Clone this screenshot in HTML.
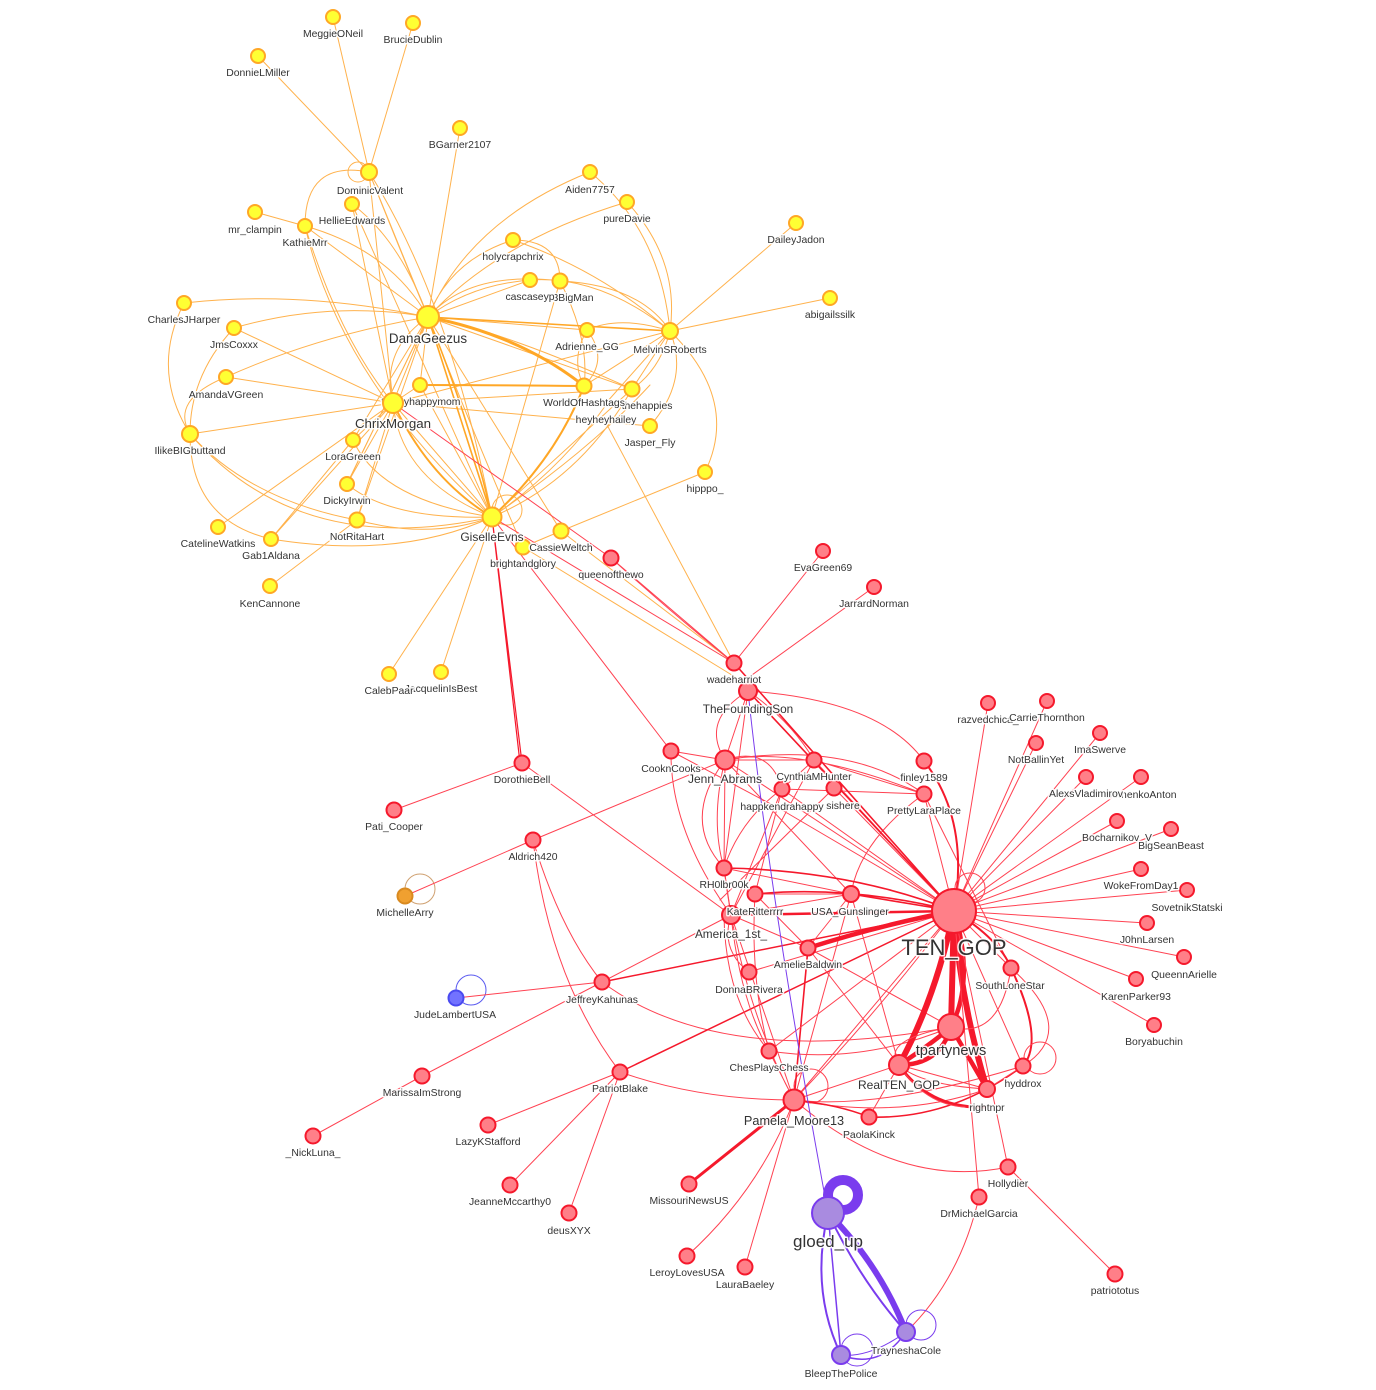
<!DOCTYPE html>
<html><head><meta charset="utf-8"><style>
html,body{margin:0;padding:0;background:#fff}
svg{display:block}
.e{fill:none;stroke-linecap:round}
.y path,.y circle{stroke:#ffb24d}
.y .t{stroke:#ffa726}
.r path,.r circle{stroke:#ff4252}
.r .t{stroke:#f5192c}
.p path,.p circle{stroke:#7a3cee}
text{font-family:"Liberation Sans",sans-serif;font-size:10.4px;fill:#333;text-anchor:middle;stroke:#fff;stroke-width:3px;stroke-opacity:.9;paint-order:stroke;stroke-linejoin:round}
.ny{fill:#ffff33;stroke:#ffa726;stroke-width:2}
.nr{fill:#ff7f88;stroke:#f5192c;stroke-width:2}
.np{fill:#a98be0;stroke:#7a3cee;stroke-width:2}
</style></head><body>
<svg width="1376" height="1390" viewBox="0 0 1376 1390" xmlns="http://www.w3.org/2000/svg">
<g class="e y" stroke-width="1">
<path d="M369 172L333 17M369 172L413 23M369 172L258 56M369 172L428 317M369 172Q400 250 428 317M369 172L393 403M369 172Q450 300 492 517M369 172Q305 160 305 226"/>
<circle cx="358" cy="172" r="10"/>
<path d="M460 128L428 317M352 204Q400 240 428 317M352 204L393 403M352 204L492 517M255 212L305 226M305 226Q390 250 428 317M305 226L428 317M305 226Q340 340 393 403M305 226Q340 380 492 517"/>
<path d="M590 172Q470 220 428 317M590 172Q660 230 670 331M627 202Q500 240 428 317M627 202Q680 260 670 331M513 240Q450 260 428 317M513 240Q560 240 560 281M513 240Q600 270 670 331M530 280Q470 285 428 317M530 280Q600 275 670 331M530 280L428 317M560 281Q470 270 428 317M560 281L492 517M560 281Q590 340 584 386M560 281Q640 285 670 331"/>
<path d="M587 330Q610 360 584 386M587 330Q570 360 584 386M587 330L428 317M587 330Q620 315 670 331M796 223L670 331M830 298L670 331"/>
<path d="M184 303Q300 290 428 317M184 303Q150 370 190 434M234 328Q330 300 428 317M234 328L393 403M234 328Q190 375 190 434M226 377Q320 335 428 317M226 377L393 403M226 377Q170 400 190 434M190 434L393 403M190 434Q250 500 357 520M190 434Q190 520 271 539M218 527L393 403M271 539L353 440M271 539Q400 560 492 517M271 539L393 403M270 586L357 520M357 520Q430 540 492 517M357 520L393 403M357 520L428 317M347 484L393 403M347 484Q390 520 492 517M347 484L428 317M353 440L428 317M353 440Q380 500 492 517M353 440L393 403M420 385L428 317M420 385L393 403M420 385L492 517"/>
<path d="M393 403L670 331M393 403L650 426M393 403L632 389M428 317Q500 330 632 389M428 317L561 531M428 317Q480 450 523 547M428 317L632 389M561 531L705 472M670 331Q740 400 705 472M670 331Q690 380 650 426M632 389L670 331M632 389Q660 370 670 331M606 403L670 331M584 386L670 331M492 517L632 389M492 517Q580 480 632 389M492 517Q560 470 606 405M492 517Q590 450 650 385M492 517L393 403M492 517L389 674M492 517L441 672M561 531L734 663M606 423L734 663M523 547L740 680M523 547L561 531M190 434Q300 560 492 517M393 403Q400 480 492 517M428 317Q410 360 393 403M428 317Q380 350 393 403M428 317L347 484"/>
<circle cx="507" cy="510" r="15"/>
<path class="t" stroke-width="3" d="M428 317Q520 335 584 386"/>
<path class="t" stroke-width="1.6" d="M428 317L670 331"/>
<path class="t" stroke-width="2" d="M420 385Q490 385 584 386M393 403Q430 480 492 517M584 386Q555 460 492 517"/>
<path class="t" stroke-width="1.6" d="M428 317L492 517M428 317Q470 420 492 517"/>
</g>
<g class="e" stroke-width="1">
<circle cx="420" cy="889" r="15" stroke="#cfa070"/>
<circle cx="471" cy="990" r="15" stroke="#5a5af0"/>
</g>
<g class="e r" stroke-width="1">
<path d="M611 558L734 663M611 558L393 403M611 558Q680 620 734 663M492 517L734 663M492 517L671 751M823 551L734 663M874 587L745 680M394 810L522 763M522 763L731 915M533 840Q560 930 602 982M533 840Q550 980 620 1072M533 840L725 760M405 896L533 840M456 998L602 982M602 982Q720 1070 951 1027M602 982L731 915M422 1076L602 982M313 1136L422 1076M620 1072L488 1125M620 1072L510 1185M620 1072L569 1213M620 1072Q700 1100 794 1100"/>
<path class="t" stroke-width="1.2" d="M492 517L522 763M492 517L520 763"/>
<path class="t" stroke-width="1.5" d="M602 982L954 911M620 1072L954 911"/>
<path d="M794 1100Q760 1190 687 1256M794 1100L745 1267M794 1100L954 911M794 1100Q880 1010 954 911M794 1100L769 1051M794 1100L731 915M794 1100Q740 1000 724 868M794 1100L851 894M794 1100L899 1065M794 1100Q880 1110 1023 1066M794 1100Q900 1120 987 1089M794 1100Q900 1190 1008 1167M869 1117L899 1065"/>
<circle cx="811" cy="1086" r="17"/>
<path class="t" stroke-width="1.6" d="M794 1100L808 948M869 1117Q950 1120 1023 1066M794 1100Q840 1105 869 1117"/>
<path d="M748 691L725 760M748 691Q700 720 725 760M748 691Q790 720 814 760M748 691Q880 700 924 761M748 691L724 868M725 760Q800 745 924 794M725 760Q850 740 924 794M725 760Q770 745 782 789M725 760L814 760M725 760L954 911M725 760L724 868M725 760Q680 820 724 868M725 760Q710 820 724 868M725 760L851 894M671 751L725 760M671 751Q670 830 731 915M671 751L782 810L954 911M782 789Q740 820 724 868M782 789L954 911M782 789L731 915M782 789L755 894M834 788L720 900M834 788L954 911M814 760L954 911M814 760L782 789M814 760L731 915M924 794L954 911M924 794Q860 840 851 894M924 794L782 789M924 794L814 760M924 794L1011 968M724 868L851 894M724 868L731 915M755 894L851 894M755 894L808 948M851 894L731 915M851 894L808 948M851 894L899 1065M808 948L731 915M808 948L899 1065M808 948L951 1027M749 972L954 911M749 972Q720 950 731 915M769 1051L954 911M769 1051Q740 1000 731 915M769 1051Q725 1000 724 915M769 1051Q750 980 755 894M769 1051Q860 1065 951 1027"/>
<path class="t" stroke-width="1.6" d="M748 691L954 911M734 663L954 911M724 868Q850 870 954 911M755 894Q850 885 954 911M851 894L954 911"/>
<path class="t" stroke-width="2" d="M924 761Q970 820 954 911"/>
<path class="t" stroke-width="2.5" d="M731 915L954 911"/>
<path class="t" stroke-width="4.5" d="M808 948Q880 925 954 911"/>
<path class="t" stroke-width="6" d="M954 911Q935 1000 899 1065M954 911L951 1027M954 911Q960 1000 987 1089"/>
<path class="t" stroke-width="4.5" d="M954 911Q975 980 951 1027M951 1027L987 1089M951 1027Q940 1065 899 1065M951 1027Q930 1045 899 1065"/>
<path class="t" stroke-width="3" d="M899 1065Q930 1110 987 1107M794 1100L689 1184"/>
<path d="M899 1065Q925 1105 965 1107M899 1065Q920 1085 987 1089M899 1065L987 1089M899 1065Q880 1040 951 1027"/>
<path class="t" stroke-width="2" d="M1011 968Q1045 1040 1023 1066M954 911Q1000 940 1011 968"/>
<circle cx="970" cy="888" r="15"/>
<circle cx="1040" cy="1058" r="16"/>
<path d="M1011 968Q1000 1040 951 1027M1011 968Q1080 1030 1023 1066M954 911L988 703M954 911L1047 701M954 911L1100 733M954 911L1036 743M954 911L1086 777M954 911L1141 777M954 911L1117 821M954 911L1171 829M954 911L1141 869M954 911L1187 890M954 911L1147 923M954 911L1184 957M954 911L1136 979M954 911L1154 1025M954 911L979 1197M954 911L1008 1167M954 911L1023 1066M954 911L1011 968M979 1197Q960 1280 906 1332M1115 1274L1008 1167M1023 1066L987 1089"/>
</g>
<g class="e p">
<path stroke-width="1" d="M748 691Q770 900 828 1213"/>
<circle cx="843" cy="1195" r="15" stroke-width="10"/>
<path stroke-width="6" d="M828 1213Q880 1265 906 1332"/>
<path stroke-width="2" d="M828 1213Q860 1280 906 1332M828 1213Q810 1290 841 1355"/>
<path stroke-width="1.5" d="M828 1213L841 1355M841 1355Q880 1370 906 1332"/>
<path stroke-width="1" d="M841 1355Q870 1358 906 1332"/>
<circle cx="857" cy="1350" r="16" stroke-width="1"/>
<circle cx="921" cy="1325" r="15" stroke-width="1"/>
</g>
<g class="ny">
<circle cx="333" cy="17" r="7"/><circle cx="413" cy="23" r="7"/><circle cx="258" cy="56" r="7"/><circle cx="369" cy="172" r="8"/><circle cx="460" cy="128" r="7"/><circle cx="590" cy="172" r="7"/><circle cx="627" cy="202" r="7"/><circle cx="352" cy="204" r="7"/><circle cx="255" cy="212" r="7"/><circle cx="305" cy="226" r="7"/><circle cx="513" cy="240" r="7"/><circle cx="796" cy="223" r="7"/><circle cx="530" cy="280" r="7"/><circle cx="560" cy="281" r="7.5"/><circle cx="830" cy="298" r="7"/><circle cx="184" cy="303" r="7"/><circle cx="234" cy="328" r="7"/><circle cx="428" cy="317" r="11"/><circle cx="587" cy="330" r="7"/><circle cx="670" cy="331" r="8"/><circle cx="226" cy="377" r="7"/><circle cx="420" cy="385" r="7"/><circle cx="584" cy="386" r="7.5"/><circle cx="632" cy="389" r="7.5"/><circle cx="190" cy="434" r="8"/><circle cx="650" cy="426" r="7"/><circle cx="353" cy="440" r="7"/><circle cx="705" cy="472" r="7"/><circle cx="347" cy="484" r="7"/><circle cx="492" cy="517" r="9.5"/><circle cx="357" cy="520" r="7.5"/><circle cx="561" cy="531" r="7.5"/><circle cx="523" cy="547" r="7.5"/><circle cx="218" cy="527" r="7"/><circle cx="271" cy="539" r="7"/><circle cx="270" cy="586" r="7"/><circle cx="389" cy="674" r="7"/><circle cx="441" cy="672" r="7"/>
</g>
<g class="nr">
<circle cx="611" cy="558" r="7.5"/><circle cx="823" cy="551" r="7"/><circle cx="874" cy="587" r="7"/><circle cx="734" cy="663" r="7.5"/><circle cx="748" cy="691" r="9"/><circle cx="988" cy="703" r="7"/><circle cx="1047" cy="701" r="7"/><circle cx="1100" cy="733" r="7"/><circle cx="1036" cy="743" r="7"/><circle cx="522" cy="763" r="7.5"/><circle cx="671" cy="751" r="7.5"/><circle cx="725" cy="760" r="9.5"/><circle cx="814" cy="760" r="7.5"/><circle cx="924" cy="761" r="7.5"/><circle cx="782" cy="789" r="7.5"/><circle cx="834" cy="788" r="7.5"/><circle cx="924" cy="794" r="7.5"/><circle cx="1086" cy="777" r="7"/><circle cx="1141" cy="777" r="7"/><circle cx="1117" cy="821" r="7"/><circle cx="1171" cy="829" r="7"/><circle cx="394" cy="810" r="7.5"/><circle cx="533" cy="840" r="7.5"/><circle cx="1141" cy="869" r="7"/><circle cx="724" cy="868" r="7.5"/><circle cx="755" cy="894" r="7.5"/><circle cx="851" cy="894" r="8"/><circle cx="1187" cy="890" r="7"/><circle cx="731" cy="915" r="9"/><circle cx="954" cy="911" r="22"/><circle cx="808" cy="948" r="7.5"/><circle cx="1147" cy="923" r="7"/><circle cx="1184" cy="957" r="7"/><circle cx="749" cy="972" r="7.5"/><circle cx="1011" cy="968" r="7.5"/><circle cx="1136" cy="979" r="7"/><circle cx="602" cy="982" r="7.5"/><circle cx="951" cy="1027" r="13"/><circle cx="1154" cy="1025" r="7"/><circle cx="769" cy="1051" r="7.5"/><circle cx="1023" cy="1066" r="7.5"/><circle cx="899" cy="1065" r="10"/><circle cx="987" cy="1089" r="8"/><circle cx="794" cy="1100" r="10.5"/><circle cx="869" cy="1117" r="7.5"/><circle cx="620" cy="1072" r="7.5"/><circle cx="422" cy="1076" r="7.5"/><circle cx="488" cy="1125" r="7.5"/><circle cx="313" cy="1136" r="7.5"/><circle cx="510" cy="1185" r="7.5"/><circle cx="569" cy="1213" r="7.5"/><circle cx="689" cy="1184" r="7.5"/><circle cx="1008" cy="1167" r="7.5"/><circle cx="979" cy="1197" r="7.5"/><circle cx="687" cy="1256" r="7.5"/><circle cx="745" cy="1267" r="7.5"/><circle cx="1115" cy="1274" r="7.5"/>
</g>
<circle cx="405" cy="896" r="7.5" fill="#f0a030" stroke="#d98a20" stroke-width="2"/>
<circle cx="456" cy="998" r="7.5" fill="#7272ff" stroke="#4a4af0" stroke-width="2"/>
<g class="np"><circle cx="828" cy="1213" r="16"/><circle cx="906" cy="1332" r="9"/><circle cx="841" cy="1355" r="9"/></g>
<g>
<text x="333" y="37">MeggieONeil</text><text x="413" y="43">BrucieDublin</text><text x="258" y="76">DonnieLMiller</text><text x="370" y="194">DominicValent</text><text x="460" y="148">BGarner2107</text><text x="590" y="193">Aiden7757</text><text x="627" y="222">pureDavie</text><text x="352" y="224">HellieEdwards</text><text x="255" y="233">mr_clampin</text><text x="305" y="246">KathieMrr</text><text x="513" y="260">holycrapchrix</text><text x="796" y="243">DaileyJadon</text><text x="573" y="301">3BigMan</text><text x="530" y="300">cascaseyp</text><text x="830" y="318">abigailssilk</text><text x="184" y="323">CharlesJHarper</text><text x="234" y="348">JmsCoxxx</text><text x="587" y="350">Adrienne_GG</text><text x="670" y="353">MelvinSRoberts</text><text x="226" y="398">AmandaVGreen</text><text x="421" y="405">tiffanyhappymom</text><text x="647" y="409">thehappies</text><text x="584" y="406">WorldOfHashtags</text><text x="606" y="423">heyheyhailey</text><text x="190" y="454">IlikeBIGbuttand</text><text x="650" y="446">Jasper_Fly</text><text x="353" y="460">LoraGreeen</text><text x="705" y="492">hipppo_</text><text x="347" y="504">DickyIrwin</text><text x="357" y="540">NotRitaHart</text><text x="561" y="551">CassieWeltch</text><text x="523" y="567">brightandglory</text><text x="218" y="547">CatelineWatkins</text><text x="271" y="559">Gab1Aldana</text><text x="270" y="607">KenCannone</text><text x="441" y="692">JacquelinIsBest</text><text x="389" y="694">CalebPaar</text>
<text x="428" y="343" style="font-size:13.4px">DanaGeezus</text><text x="393" y="428" style="font-size:13.3px">ChrixMorgan</text><text x="492" y="541" style="font-size:12px">GiselleEvns</text>
<text x="611" y="578">queenofthewo</text><text x="823" y="571">EvaGreen69</text><text x="874" y="607">JarrardNorman</text><text x="734" y="683">wadeharriot</text><text x="748" y="713" style="font-size:11.8px">TheFoundingSon</text><text x="988" y="723">razvedchica_</text><text x="1047" y="721">CarrieThornthon</text><text x="1100" y="753">ImaSwerve</text><text x="1036" y="763">NotBallinYet</text><text x="522" y="783">DorothieBell</text><text x="671" y="772">CooknCooks</text><text x="725" y="783" style="font-size:12px">Jenn_Abrams</text><text x="814" y="780">CynthiaMHunter</text><text x="924" y="781">finley1589</text><text x="782" y="810">happkendrahappy</text><text x="843" y="809">sishere</text><text x="924" y="814">PrettyLaraPlace</text><text x="1141" y="798">SemenkoAnton</text><text x="1086" y="797">AlexsVladimirov</text><text x="1117" y="841">Bocharnikov_V</text><text x="1171" y="849">BigSeanBeast</text><text x="394" y="830">Pati_Cooper</text><text x="533" y="860">Aldrich420</text><text x="1141" y="889">WokeFromDay1</text><text x="724" y="888">RH0lbr00k</text><text x="755" y="915">KateRitterrrr</text><text x="850" y="915">USA_Gunslinger</text><text x="1187" y="911">SovetnikStatski</text><text x="731" y="938" style="font-size:11.8px">America_1st_</text><text x="808" y="968">AmelieBaldwin</text><text x="1147" y="943">J0hnLarsen</text><text x="1184" y="978">QueennArielle</text><text x="749" y="993">DonnaBRivera</text><text x="1010" y="989">SouthLoneStar</text><text x="1136" y="1000">KarenParker93</text><text x="602" y="1003">JeffreyKahunas</text><text x="1154" y="1045">Boryabuchin</text><text x="769" y="1071">ChesPlaysChess</text><text x="1023" y="1087">hyddrox</text><text x="987" y="1111">rightnpr</text><text x="869" y="1138">PaolaKinck</text><text x="620" y="1092">PatriotBlake</text><text x="422" y="1096">MarissaImStrong</text><text x="488" y="1145">LazyKStafford</text><text x="313" y="1156">_NickLuna_</text><text x="510" y="1205">JeanneMccarthy0</text><text x="569" y="1234">deusXYX</text><text x="689" y="1204">MissouriNewsUS</text><text x="1008" y="1187">Hollydier</text><text x="979" y="1217">DrMichaelGarcia</text><text x="687" y="1276">LeroyLovesUSA</text><text x="745" y="1288">LauraBaeley</text><text x="1115" y="1294">patriototus</text><text x="405" y="916">MichelleArry</text><text x="455" y="1018">JudeLambertUSA</text>
<text x="954" y="955" style="font-size:22px">TEN_GOP</text><text x="951" y="1055" style="font-size:14.6px">tpartynews</text><text x="899" y="1089" style="font-size:12px">RealTEN_GOP</text><text x="794" y="1125" style="font-size:12.7px">Pamela_Moore13</text><text x="828" y="1247" style="font-size:17px">gloed_up</text><text x="906" y="1354">TrayneshaCole</text><text x="841" y="1377">BleepThePolice</text>
</g>
<circle class="ny" cx="393" cy="403" r="10"/>
</svg>
</body></html>
